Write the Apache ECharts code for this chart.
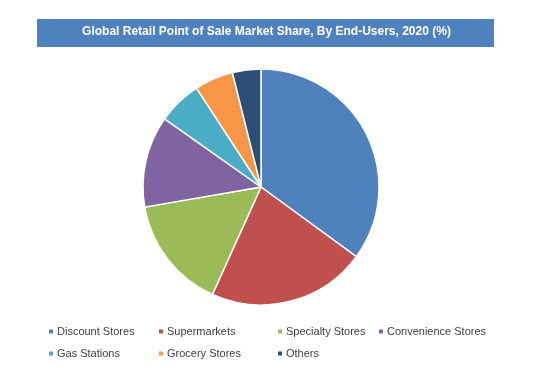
<!DOCTYPE html>
<html><head><meta charset="utf-8">
<script src="https://cdn.jsdelivr.net/npm/echarts@6/dist/echarts.min.js"></script>
<style>html,body{margin:0;padding:0;background:#fff}#c{width:533px;height:385px}</style>
</head><body><div id="c"></div>
<script>
var categories = ['Discount Stores','Supermarkets','Specialty Stores','Convenience Stores','Gas Stations','Grocery Stores','Others'];
var values = [35.0, 21.7, 15.5, 12.5, 6.0, 5.3, 3.9];
var colors = ['#4F81BD','#C0504D','#9BBB59','#8064A2','#4BACC6','#F79646','#2C4D75'];
var titleText = 'Global Retail Point of Sale Market Share, By End-Users, 2020 (%)';

var legendPos = [[47,326],[157,326],[276,326],[377,326],[47,348],[157,348],[276,348]];
var legends = categories.map(function(n,i){
  return {data:[n], left:legendPos[i][0], top:legendPos[i][1], itemWidth:6, itemHeight:6, itemGap:0,
    icon:'rect', textStyle:{fontFamily:'Liberation Sans', fontSize:11, color:'#404040', padding:[0,0,0,-2]}, selectedMode:false, padding:0};
});
var chart = echarts.init(document.getElementById('c'));
chart.setOption({
  animation:false,
  color: colors,
  graphic:[{type:'rect', shape:{x:37,y:19,width:457,height:28}, style:{fill:'#4F81BD'}, z:-1}],
  title:{text:titleText, left:'center', top:26, textStyle:{color:'#fff', fontFamily:'Liberation Sans', fontSize:12, fontWeight:'bold'}, padding:0},
  legend: legends,
  series:[{type:'pie', center:[261,187], radius:118, startAngle:90, clockwise:true,
    label:{show:false}, labelLine:{show:false},
    itemStyle:{borderColor:'#fff', borderWidth:1.5},
    emphasis:{disabled:true},
    data: categories.map(function(n,i){return {name:n, value:values[i]};})
  }]
});
</script></body></html>
